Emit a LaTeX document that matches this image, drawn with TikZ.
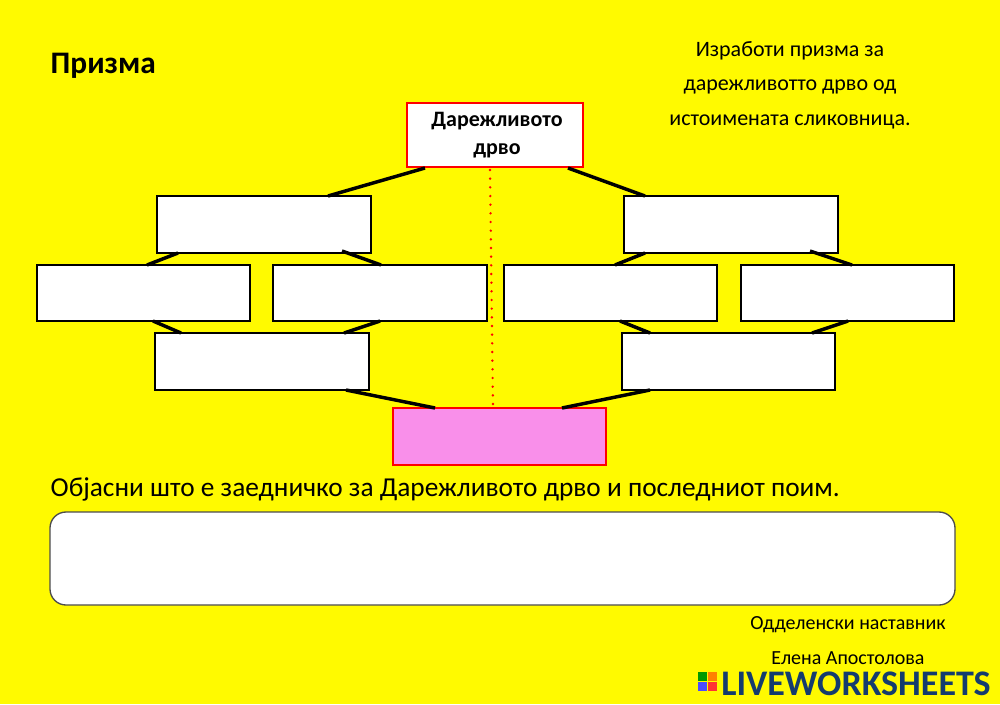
\documentclass[tikz,border=0pt]{standalone}
\usepackage{fontspec}
\setmainfont{Carlito}
\definecolor{bgy}{RGB}{255,250,0}
\definecolor{pinkf}{RGB}{249,143,234}
\definecolor{lwblue}{RGB}{20,60,110}
\begin{document}
\begin{tikzpicture}[x=0.75pt,y=-0.75pt,
 wb/.style={draw=black,fill=white,line width=1pt},
 con/.style={line width=2.6pt,black}]
\fill[bgy] (0,0) rectangle (1000,704);
\useasboundingbox (0,0) rectangle (1000,704);
\node[anchor=west,font=\bfseries\fontsize{23.5}{26}\selectfont] (t) at (46,66) {Призма};
\node[align=center,font=\fontsize{16.5}{26}\selectfont] (ins) at (790,85) {Изработи призма за\\дарежливотто дрво од\\истоимената сликовница.};
\draw[draw=red,fill=white,line width=1pt] (407,103) rectangle (583,167);
\node[font=\bfseries\fontsize{16.5}{21}\selectfont,align=center] (top) at (497,135) {Дарежливото\\дрво};
\draw[red,line width=2pt,line cap=round,dash pattern=on 0pt off 6.5pt] (490,170) -- (493,408);
\draw[wb] (157,196) rectangle (371,253);
\draw[wb] (37,265) rectangle (250,321);
\draw[wb] (273,265) rectangle (487,321);
\draw[wb] (155,333) rectangle (369,390);
\draw[wb] (624,196) rectangle (838,253);
\draw[wb] (504,265) rectangle (717,321);
\draw[wb] (741,265) rectangle (954,321);
\draw[wb] (622,333) rectangle (835,390);
\draw[draw=red,fill=pinkf,line width=1pt] (393,408) rectangle (606,465);
\draw[con] (425,168) -- (328,196);
\draw[con] (568,168) -- (645,196);
\draw[con] (178,253) -- (147,265);
\draw[con] (342,251) -- (381,265);
\draw[con] (153,321) -- (181,333);
\draw[con] (380,321) -- (344,333);
\draw[con] (346,390) -- (435,408);
\draw[con] (645,253) -- (615,265);
\draw[con] (810,251) -- (852,265);
\draw[con] (620,321) -- (650,333);
\draw[con] (848,321) -- (812,333);
\draw[con] (650,390) -- (562,408);
\node[anchor=west,font=\fontsize{20.5}{24}\selectfont] (q) at (46,489) {Објасни што е заедничко за Дарежливото дрво и последниот поим.};
\draw[draw=black!70,fill=white,line width=1pt,rounded corners=12pt] (50,512) rectangle (955,605);
\node[font=\fontsize{15}{18}\selectfont] (s1) at (848,625) {Одделенски наставник};
\node[font=\fontsize{15}{18}\selectfont] (s2) at (848,658) {Елена Апостолова};
\node[font=\bfseries\fontsize{27}{30}\selectfont,text=lwblue] (lw) at (856,684) {LIVEWORKSHEETS};
\fill[green!60!black] (698,672) rectangle (707,681);
\fill[orange] (708,672) rectangle (717,681);
\fill[blue!70] (698,682) rectangle (707,691);
\fill[red!80] (708,682) rectangle (717,691);
\end{tikzpicture}
\end{document}
